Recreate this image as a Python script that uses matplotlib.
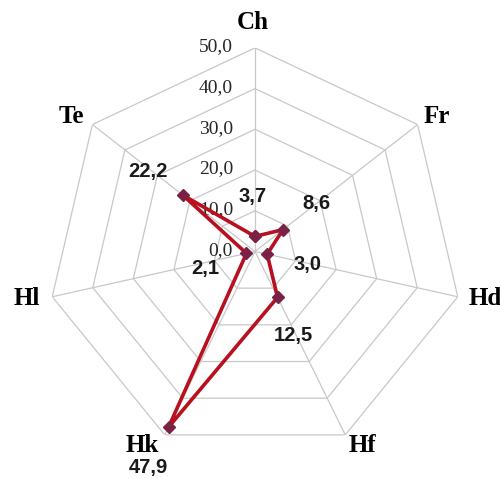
import numpy as np
import matplotlib
import matplotlib.pyplot as plt

matplotlib.use("Agg")

categories = ["Ch", "Fr", "Hd", "Hf", "Hk", "Hl", "Te"]
values = [3.7, 8.6, 3.0, 12.5, 47.9, 2.1, 22.2]
value_labels = ["3,7", "8,6", "3,0", "12,5", "47,9", "2,1", "22,2"]
rings = [0, 10, 20, 30, 40, 50]
ring_labels = ["0,0", "10,0", "20,0", "30,0", "40,0", "50,0"]

LINE_RED = "#B8101E"
MARKER = "#7A2145"
GRID = "#C8C8C8"

# offsets (pixels) for the category names and the data labels
name_offsets = [(-2, 25), (19, 8), (27, -2), (17, -11), (-23, -11), (-25, -2), (-21, 8)]
value_offsets = [(-2, 40), (33, 26), (40, -10), (16, -38), (-20, -40), (-41, -15), (-35, 24)]

n = len(categories)
theta = np.arange(n) * 2 * np.pi / n

fig = plt.figure(figsize=(5.0, 4.79), dpi=100)
ax = fig.add_axes([0.094, 0.05, 0.832, 0.85], projection="polar")
ax.set_theta_offset(np.pi / 2)
ax.set_theta_direction(-1)
ax.set_ylim(0, 50)
ax.set_aspect("auto")
ax.grid(False)
ax.spines["polar"].set_visible(False)
ax.set_xticks([])
ax.set_yticks([])

# heptagon grid
closed = np.append(theta, theta[0])
for r in rings[1:]:
    ax.plot(closed, [r] * (n + 1), color=GRID, lw=0.9, zorder=1)
for t in theta:
    ax.plot([t, t], [0, 50], color=GRID, lw=0.9, zorder=1)

# ring labels along the first axis
for r, lab in zip(rings, ring_labels):
    ax.annotate(lab, xy=(0, r), xytext=(-22, 1), textcoords="offset pixels",
                ha="right", va="center", fontsize=14, family="Liberation Serif",
                color="#262626", zorder=2)

# data series
vals = values + values[:1]
ax.plot(closed, vals, color=LINE_RED, lw=2.6, zorder=3,
        marker="D", markersize=6.5, markerfacecolor=MARKER, markeredgecolor=MARKER)

for t, name, off in zip(theta, categories, name_offsets):
    ax.annotate(name, xy=(t, 50), xytext=off, textcoords="offset pixels",
                ha="center", va="center", fontsize=18, fontweight="bold",
                family="Liberation Serif", color="black", annotation_clip=False)

for t, v, lab, off in zip(theta, values, value_labels, value_offsets):
    ax.annotate(lab, xy=(t, v), xytext=off, textcoords="offset pixels",
                ha="center", va="center", fontsize=14.5, fontweight="bold",
                family="Liberation Sans", color="#1A1A1A", zorder=4)

fig.savefig("out.png", dpi=100)
plt.close(fig)
